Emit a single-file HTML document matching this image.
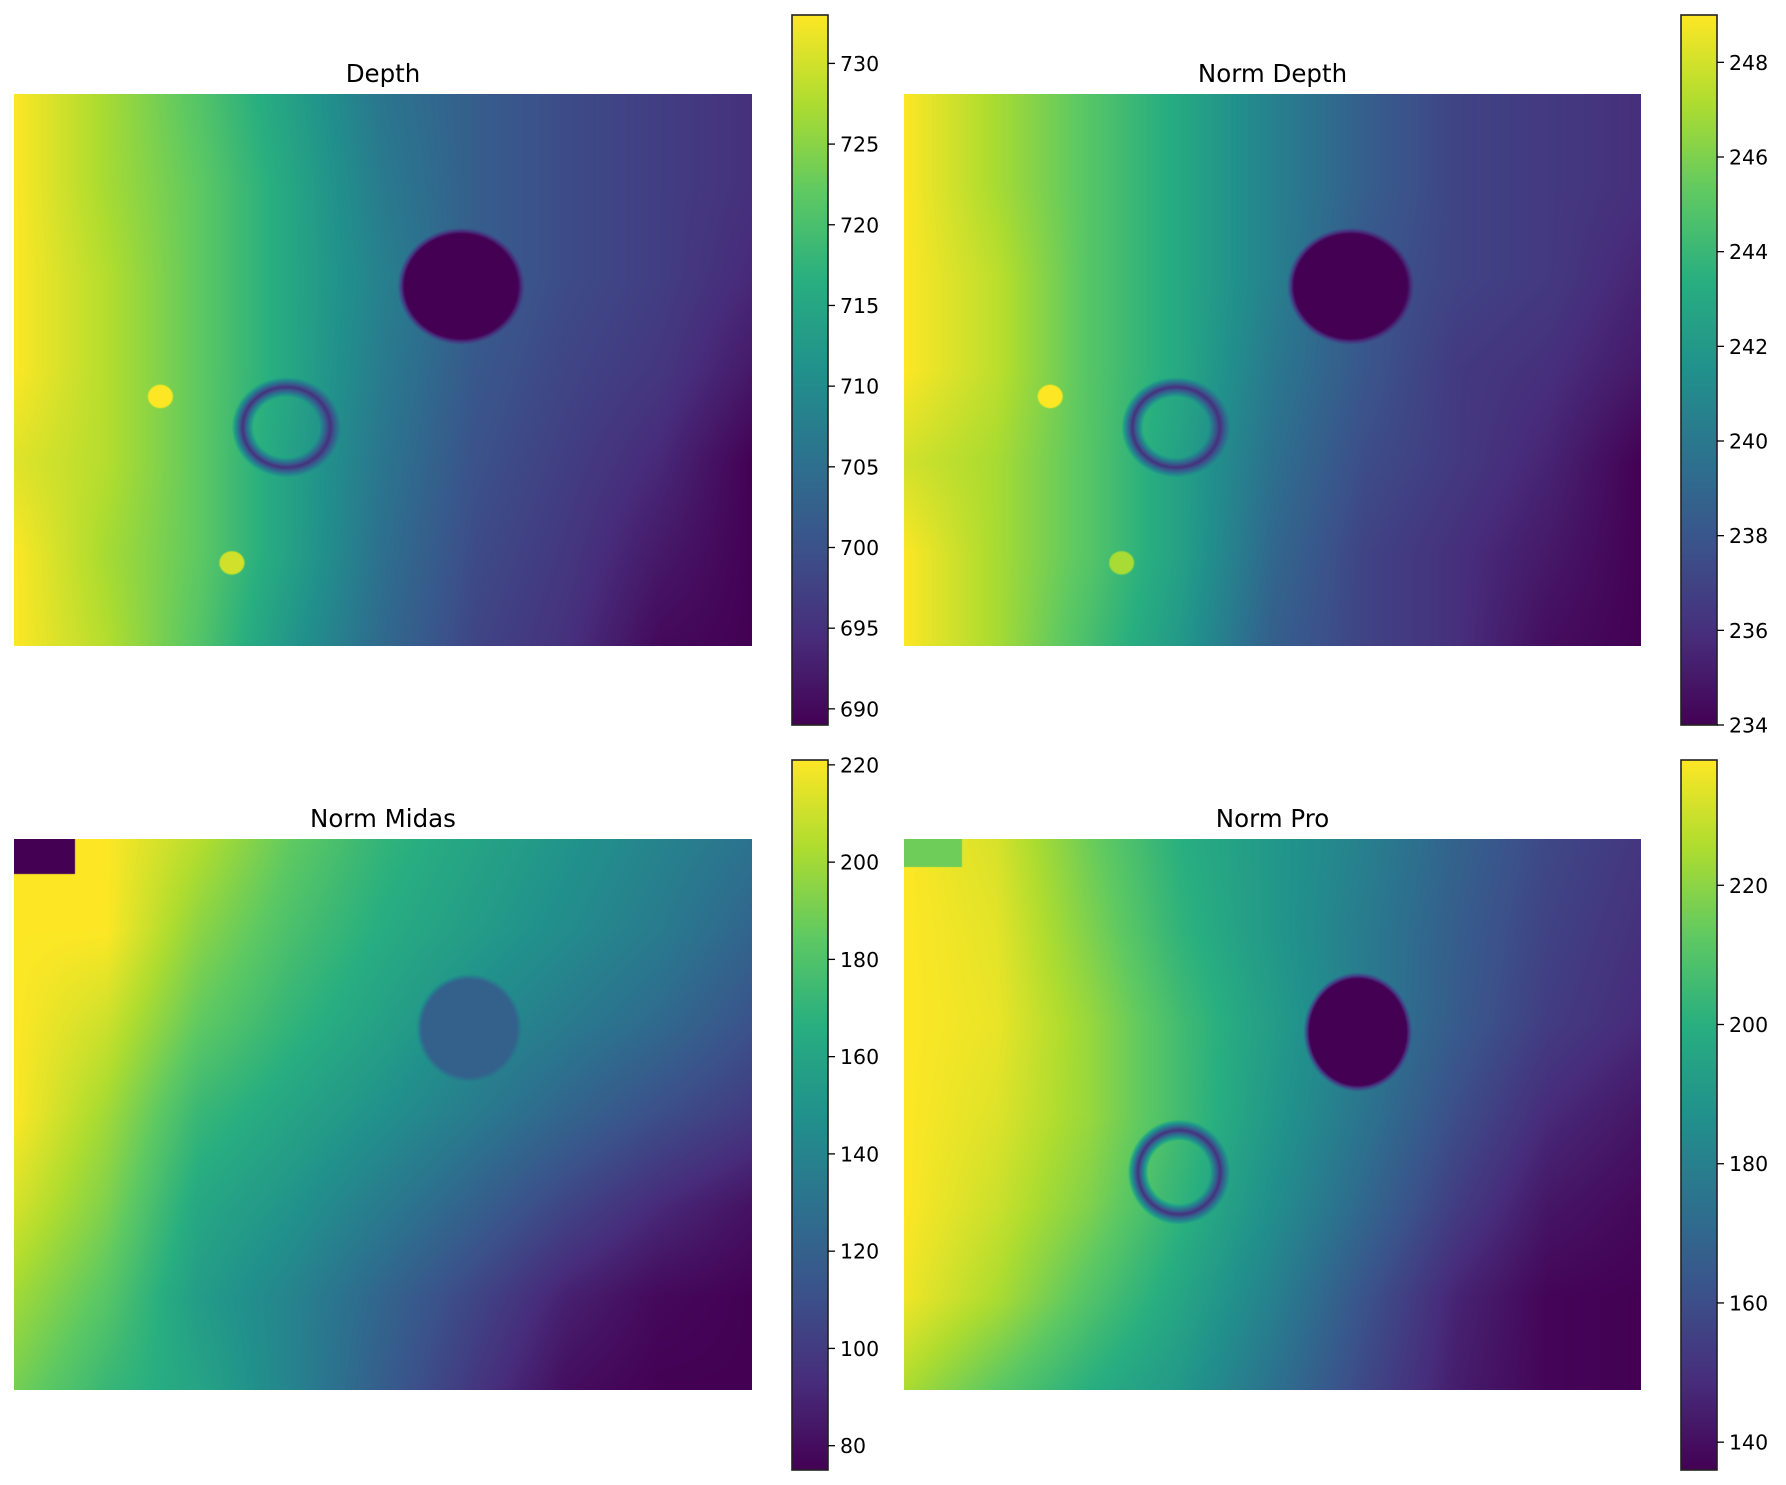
<!DOCTYPE html>
<html><head><meta charset="utf-8">
<style>
html,body{margin:0;padding:0;background:#fff;}
#fig{position:relative;width:1786px;height:1485px;overflow:hidden;background:#fff;font-family:"DejaVu Sans","Liberation Sans",sans-serif;}
canvas{position:absolute;display:block;}
svg{position:absolute;left:0;top:0;}
</style></head>
<body>
<div id="fig">
<canvas id="c0"></canvas>
<canvas id="c1"></canvas>
<canvas id="c2"></canvas>
<canvas id="c3"></canvas>
<svg id="ov" width="1786" height="1485"></svg>
</div>
<script>
// ---- data ----
const panelTitles = ["Depth","Norm Depth","Norm Midas","Norm Pro"];
const vmins = [689, 234, 75, 136];
const vmaxs = [733, 249, 221, 238];
const ticks0 = [690,695,700,705,710,715,720,725,730];
const ticks1 = [234,236,238,240,242,244,246,248];
const ticks2 = [80,100,120,140,160,180,200,220];
const ticks3 = [140,160,180,200,220];
// value grids: 7 rows (top->bottom) x 9 cols (left->right)
const grid0 = [
 [733,727,721,714,706,702,699,697,695],
 [733,727,722,715,707,702,699,697,695],
 [733,728,722,715,708,702,699,697,694],
 [733,728,722,715,707,701,698,696,692],
 [731,728,722,714,706,700,697,694,689],
 [733,727,722,714,705,699,696,692,689],
 [733,728,721,712,704,698,695,690,689]];
const grid1 = [
 [249,247,245,243,240.5,238.5,237,236.5,236],
 [249,247,245,243,240.5,238.5,237,236.5,236],
 [249,247.5,245,243,240.5,238,237,236.5,235.5],
 [249,247.5,245,243,240,238,236.5,236,235],
 [248,247,245,242.5,239.5,237.5,236.5,235.5,234],
 [249,247,245,242.5,239,237,236,235,234],
 [249,247,244.5,242,238.5,237,236,234.5,234]];
const grid2 = [
 [221,221,205,185,170,160,150,140,130],
 [221,221,195,178,165,155,145,135,122],
 [221,210,185,170,158,145,135,125,112],
 [221,200,172,160,148,135,122,110,100],
 [212,192,162,150,135,120,105,92,82],
 [200,182,155,140,122,105,88,78,75],
 [190,172,160,140,118,98,80,75,75]];
const grid3 = [
 [238,232,215,200,190,180,168,158,152],
 [238,234,218,202,190,178,166,156,150],
 [238,235,222,206,192,178,165,154,148],
 [238,233,222,206,190,175,160,148,142],
 [238,230,218,202,186,170,154,142,138],
 [236,225,210,196,180,162,146,137,136],
 [225,212,200,190,174,158,144,137,136]];
// features: [cx, cy, rx, ry, value, kind] kind: disk / ring / rect(cx=u0,cy=v0,rx=u1,ry=v1)
const feats0 = [[0.606,0.348,0.077,0.095,689,"disk"],[0.369,0.604,0.066,0.081,695,"ring"],[0.198,0.548,0.016,0.02,733,"disk"],[0.295,0.85,0.016,0.02,730,"disk"]];
const feats1 = [[0.606,0.348,0.077,0.095,234,"disk"],[0.369,0.604,0.066,0.081,236,"ring"],[0.198,0.548,0.016,0.02,249,"disk"],[0.295,0.85,0.016,0.02,247,"disk"]];
const feats2 = [[0,0,0.082,0.062,75,"rect"],[0.617,0.343,0.064,0.088,120,"disk"]];
const feats3 = [[0,0,0.078,0.05,215,"rect"],[0.616,0.35,0.066,0.097,136,"disk"],[0.373,0.605,0.062,0.085,150,"ring"]];
const grids=[grid0,grid1,grid2,grid3], feats=[feats0,feats1,feats2,feats3], tickSets=[ticks0,ticks1,ticks2,ticks3];

// ---- layout ----
const imgBoxes=[[14,94,752,646],[904,94,1641,646],[14,839,752,1390],[904,839,1641,1390]];
const cbBoxes=[[792,15,828,725],[1681,15,1717,725],[792,760,828,1470],[1681,760,1717,1470]];
const vir=[[68,1,84],[71,45,123],[59,82,139],[44,114,142],[33,145,140],[40,174,128],[94,201,98],[173,220,48],[253,231,37]];
function cmap(t){t=Math.max(0,Math.min(1,t));const s=t*8,i=Math.min(7,Math.floor(s)),f=s-i;const a=vir[i],b=vir[i+1];return [a[0]+(b[0]-a[0])*f,a[1]+(b[1]-a[1])*f,a[2]+(b[2]-a[2])*f];}
function sample(g,u,v){const R=g.length-1,C=g[0].length-1;const x=u*C,y=v*R;const i=Math.min(C-1,Math.floor(x)),j=Math.min(R-1,Math.floor(y));const fx=x-i,fy=y-j;return (g[j][i]*(1-fx)+g[j][i+1]*fx)*(1-fy)+(g[j+1][i]*(1-fx)+g[j+1][i+1]*fx)*fy;}
for(let p=0;p<4;p++){
  const [x0,y0,x1,y1]=imgBoxes[p];const W=x1-x0,H=y1-y0;
  const cv=document.getElementById('c'+p);cv.width=W;cv.height=H;cv.style.left=x0+'px';cv.style.top=y0+'px';
  const ctx=cv.getContext('2d');const im=ctx.createImageData(W,H);
  const lo=vmins[p],hi=vmaxs[p];
  for(let y=0;y<H;y++)for(let x=0;x<W;x++){
    const u=x/(W-1),v=y/(H-1);let val=sample(grids[p],u,v);
    for(const f of feats[p]){
      if(f[5]==="rect"){if(u>=f[0]&&u<=f[2]&&v>=f[1]&&v<=f[3])val=f[4];}
      else{const d=Math.sqrt(((u-f[0])/f[2])**2+((v-f[1])/f[3])**2);
        if(f[5]==="disk"){if(d<1)val=f[4];else if(d<1.12)val=val+(f[4]-val)*(1-(d-1)/0.12);}
        else{const e=Math.abs(d-0.9);if(e<0.22)val=val+(f[4]-val)*(1-e/0.22);}}
    }
    const c=cmap((val-lo)/(hi-lo));const k=(y*W+x)*4;im.data[k]=c[0];im.data[k+1]=c[1];im.data[k+2]=c[2];im.data[k+3]=255;
  }
  ctx.putImageData(im,0,0);
}
// ---- svg overlay ----
const NS="http://www.w3.org/2000/svg";const ov=document.getElementById('ov');
function mk(t,a){const e=document.createElementNS(NS,t);for(const k in a)e.setAttribute(k,a[k]);ov.appendChild(e);return e;}
const defs=mk('defs',{});
const lg=document.createElementNS(NS,'linearGradient');lg.setAttribute('id','vg');lg.setAttribute('x1','0');lg.setAttribute('y1','1');lg.setAttribute('x2','0');lg.setAttribute('y2','0');
vir.forEach((c,i)=>{const s=document.createElementNS(NS,'stop');s.setAttribute('offset',(i/8));s.setAttribute('stop-color','rgb('+c.join(',')+')');lg.appendChild(s);});
defs.appendChild(lg);
for(let p=0;p<4;p++){
  const [x0,y0,x1,y1]=imgBoxes[p];
  const t=mk('text',{x:(x0+x1)/2,y:y0-12,'text-anchor':'middle','font-size':'24.5','fill':'#000'});t.textContent=panelTitles[p];
  
  
  const [cx0,cy0,cx1,cy1]=cbBoxes[p];
  const r=mk('rect',{x:cx0,y:cy0,width:cx1-cx0,height:cy1-cy0,fill:'url(#vg)',stroke:'#222','stroke-width':'1.6'});
  
  
  const sy=v=>cy1-(v-vmins[p])/(vmaxs[p]-vmins[p])*(cy1-cy0);
  for(const tv of tickSets[p]){
    const y=sy(tv);
    const l=mk('line',{x1:cx1,x2:cx1+7,y1:y,y2:y,stroke:'#000','stroke-width':'1.3'});
    
    
    const tx=mk('text',{x:cx1+12,y:y+7.5,'font-size':'20.5','fill':'#000'});tx.textContent=tv;
    
    
  }
}
</script>
</body></html>
